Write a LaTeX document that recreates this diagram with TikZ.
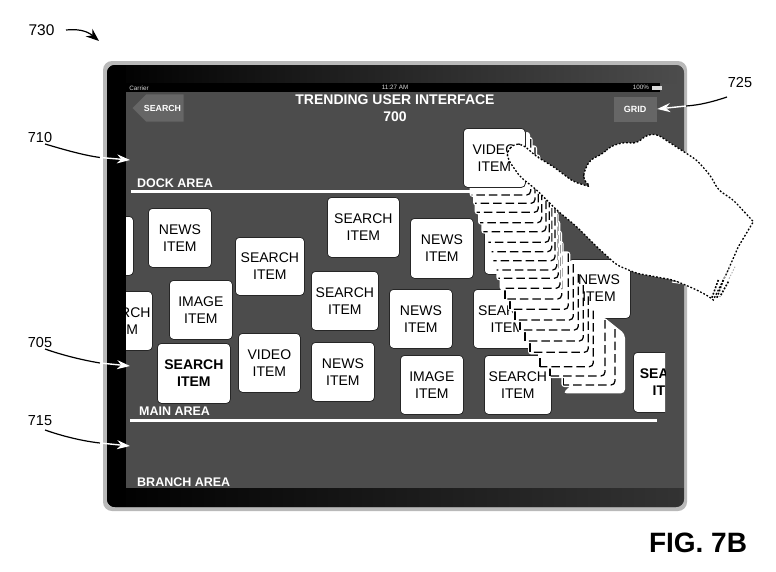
\documentclass[tikz,border=0pt]{standalone}
\usepackage{fontspec}
\setmainfont{Liberation Sans}
\usetikzlibrary{arrows.meta,shapes.geometric}
\definecolor{halftone}{gray}{0.30}
\definecolor{btn}{gray}{0.40}
\definecolor{bezelend}{gray}{0.20}
\tikzset{
  card/.style={fill=white,draw=black!85,line width=0.8pt,rounded corners=4pt,inner sep=0pt,align=center,font=\fontsize{14}{17}\selectfont,anchor=north west},
  areatext/.style={text=white,font=\bfseries\fontsize{12.5}{14}\selectfont,anchor=west,inner sep=0pt},
  reflabel/.style={font=\fontsize{14.5}{16}\selectfont,inner sep=1pt},
  leader/.style={line width=1.2pt},
  wleader/.style={line width=1.4pt,white,-{Stealth[length=13pt,width=9pt]}},
  trail/.style={dash pattern=on 8.5pt off 4pt,line width=1.25pt,black},
  status/.style={text=white!85!black,font=\fontsize{6.3}{7}\selectfont,inner sep=0pt}
}
\newcommand{\cardat}[7]{% name x0 y0 x1 y1 text style
  \node[card,#7,minimum width=#4pt-#2pt,minimum height=#5pt-#3pt] (#1) at (#2,#3) {#6};}
\newcommand{\trailcard}[3]{% bottom y, left x, right x (zoom coordinates)
  \fill[white,rounded corners=3pt] ({440+(#2)/3-2},{110+(#1)/3+2}) rectangle ({440+(#3)/3+2},{110+(#1)/3-58});
  \draw[trail,rounded corners=4pt] ({440+(#3)/3},{110+(#1)/3-56}) -- ({440+(#3)/3},{110+(#1)/3}) -- ({440+(#2)/3},{110+(#1)/3});}
\newcommand{\trailtick}[3]{%
  \fill[white,rounded corners=3pt] ({440+(#2)/3-2},{110+(#1)/3+2}) rectangle ({440+(#3)/3+2},{110+(#1)/3-58});
  \draw[trail,rounded corners=4pt] ({440+(#3)/3},{110+(#1)/3-56}) -- ({440+(#3)/3},{110+(#1)/3}) -- ({440+(#2)/3},{110+(#1)/3});
  \draw[line width=1.1pt] ({440+(#2)/3},{110+(#1)/3}) -- ({440+(#2)/3},{110+(#1)/3-9});}
\begin{document}
\begin{tikzpicture}[x=1pt,y=-1pt]
\useasboundingbox (0,0) rectangle (776,571);
% device
\fill[gray!55,rounded corners=9pt] (103,61) rectangle (687,511);
\fill[halftone,rounded corners=8pt] (107,65) rectangle (684,507);
\begin{scope}
\clip[rounded corners=8pt] (107,65) rectangle (684,507);
\shade[left color=black,right color=halftone,middle color=black!85] (107,65) rectangle (684,83);
\shade[left color=black,right color=bezelend] (107,488) rectangle (684,507);
\fill[black] (107,65) rectangle (126,507);
\end{scope}
\fill[black] (126,83) rectangle (660,92);
% status bar
\node[status] (carrier) at (139,88) {Carrier};
\node[status] (clock) at (395,87.5) {11:27 AM};
\node[status] (battery) at (641,87.5) {100\%};
\fill[white!85!black] (652,85.5) rectangle (662,89.5);
% buttons
\draw[black!70,fill=btn,line width=0.6pt] (184,94) -- (146,94) -- (132,108) -- (146,122) -- (184,122) -- cycle;
\node[text=white,font=\bfseries\fontsize{8.8}{10}\selectfont,inner sep=0pt] (searchbtn) at (162.5,108) {SEARCH};
\node[draw=black!70,fill=btn,minimum width=44pt,minimum height=26pt,inner sep=0pt,text=white,font=\bfseries\fontsize{9}{10}\selectfont] (gridbtn) at (635,109) {GRID};
% title
\node[text=white,align=center,font=\bfseries\fontsize{14}{17}\selectfont,inner sep=0pt] (title) at (395,108.5) {TRENDING USER INTERFACE\\700};
% area dividers and labels
\node[areatext] (dock) at (137,183) {DOCK AREA};
\node[areatext] (main) at (139,411.5) {MAIN AREA};
\node[areatext] (branch) at (137,482) {BRANCH AREA};
\coordinate (dockL) at (131,191.5);
\coordinate (dockR) at (660,191.5);
\coordinate (mainL) at (130,420.5);
\coordinate (mainR) at (657,420.5);
\draw[white,line width=2.4pt] (dockL) -- (dockR);
\draw[white,line width=2.4pt] (mainL) -- (mainR);
% cards, clipped to the screen
\begin{scope}
\clip (126,93) rectangle (665,488);
\cardat{c1}{110}{216}{133}{275}{}{}
\cardat{c2}{148}{208}{211}{267}{NEWS\\ITEM}{}
\cardat{c3}{235}{237}{304}{295}{SEARCH\\ITEM}{}
\cardat{c4}{327}{197}{399}{257}{SEARCH\\ITEM}{}
\cardat{c5}{410}{218}{473}{278}{NEWS\\ITEM}{}
\cardat{c6}{484}{215}{540}{274}{}{}
\cardat{c7}{169}{280}{232}{339}{IMAGE\\ITEM}{}
\cardat{c8}{311}{271}{378}{330}{SEARCH\\ITEM}{}
\cardat{c9}{389}{289}{452}{348}{NEWS\\ITEM}{}
\cardat{c10}{238}{333}{300}{392}{VIDEO\\ITEM}{}
\cardat{c11}{311}{342}{374}{401}{NEWS\\ITEM}{}
\cardat{c12}{157}{343}{230}{403}{\bfseries SEARCH\\\bfseries ITEM}{}
\cardat{c13}{400}{355}{463}{414}{IMAGE\\ITEM}{}
\cardat{c14}{484}{355}{551}{414}{SEARCH\\ITEM}{}
\cardat{c15}{473}{289}{541}{348}{SEARCH\\ITEM}{}
\cardat{c16}{568}{259}{630}{318}{}{}
\cardat{c17}{633}{352}{705}{412}{\bfseries SEARCH\\\bfseries ITEM}{}
\cardat{c18}{90}{291}{152}{350}{SEARCH\\ITEM}{}
\end{scope}
% the trail of the dragged card (back to front)
\fill[white,rounded corners=4pt] ({440+368/3},{110+850/3}) -- ({440+555/3},{110+850/3}) -- ({440+555/3},{110+672/3}) -- ({440+490/3},{110+620/3}) -- ({440+420/3},{110+800/3}) -- cycle;
\trailtick{825}{370}{525}
\trailtick{798}{330}{495}
\trailtick{770}{300}{460}
\trailtick{727}{270}{445}
\trailtick{693}{255}{430}
\trailtick{660}{240}{415}
\trailtick{630}{225}{400}
\trailtick{598}{210}{385}
\trailtick{567}{195}{365}
\trailcard{535}{185}{360}
\trailcard{505}{175}{355}
\trailcard{480}{170}{350}
\trailcard{452}{160}{345}
\trailcard{425}{155}{335}
\trailcard{397}{145}{328}
\trailcard{365}{130}{318}
\trailcard{338}{120}{305}
\trailcard{307}{110}{295}
\trailcard{280}{105}{285}
\trailcard{255}{95}{272}
% text of the news card shows through the trail
\node[align=center,inner sep=0pt,font=\fontsize{14}{17}\selectfont] (newstext) at (599,288) {NEWS\\ITEM};
% dragged card
\fill[white,rounded corners=3pt] (524,132) rectangle (530,180);
\cardat{c19}{463}{128}{525}{187}{VIDEO\\ITEM}{}
% white stroke behind the wrist
\coordinate (strokeL) at (672,282);
\coordinate (strokeR) at (686,284);
\draw[white,line width=1.2pt] (strokeL) -- (strokeR);
% hand
\draw[fill=white,draw=black,line width=1.3pt,dash pattern=on 1.8pt off 1.8pt,rounded corners=5pt]
 ({440+200/3},{110+125/3}) -- ({440+225/3},{110+100/3}) -- ({440+250/3},{110+105/3}) -- ({440+290/3},{110+140/3})
 -- ({440+340/3},{110+170/3}) -- ({440+400/3},{110+215/3}) -- ({440+455/3},{110+232/3}) -- ({440+430/3},{110+210/3})
 -- ({440+432/3},{110+185/3}) -- ({440+450/3},{110+150/3}) -- ({440+490/3},{110+130/3}) -- ({440+510/3},{110+110/3})
 -- ({440+550/3},{110+97/3}) -- ({440+590/3},{110+100/3}) -- ({440+620/3},{110+75/3}) -- ({440+650/3},{110+72/3})
 -- ({440+700/3},{110+105/3}) -- ({440+770/3},{110+150/3}) -- ({440+810/3},{110+195/3}) -- ({440+835/3},{110+240/3})
 -- ({440+880/3},{110+270/3}) [sharp corners] -- ({440+940/3},{110+335/3}) -- ({440+895/3},{110+410/3}) -- ({440+860/3},{110+490/3})
 -- ({440+820/3},{110+570/3}) [rounded corners=5pt] -- ({440+805/3},{110+558/3}) -- ({440+760/3},{110+535/3}) -- ({440+700/3},{110+510/3})
 -- ({440+590/3},{110+490/3}) -- ({440+530/3},{110+465/3}) -- ({440+470/3},{110+410/3}) -- ({440+410/3},{110+350/3})
 -- ({440+350/3},{110+300/3}) -- ({440+290/3},{110+240/3}) -- ({440+240/3},{110+200/3}) -- ({440+205/3},{110+150/3}) -- cycle;
% cuff of the sleeve
\foreach \a/\b/\c/\d in {835/510/815/565,850/510/830/565,865/515/840/560}{
  \draw[line width=1.6pt,dash pattern=on 1.8pt off 1.6pt] ({440+\a/3},{110+\b/3}) -- ({440+\c/3},{110+\d/3});}
\foreach \a/\b/\c/\d in {870/470/850/510,885/470/865/510}{
  \draw[gray!60,line width=1pt,dash pattern=on 1.4pt off 1.6pt] ({440+\a/3},{110+\b/3}) -- ({440+\c/3},{110+\d/3});}
% reference labels
\node[reflabel,font=\fontsize{15.5}{17}\selectfont] (n730) at (41.5,30) {730};
\node[reflabel] (n725) at (740,83) {725};
\node[reflabel] (n710) at (40,138) {710};
\node[reflabel] (n705) at (40,343) {705};
\node[reflabel] (n715) at (40,421) {715};
\node[font=\bfseries\fontsize{28}{32}\selectfont,inner sep=0pt] (fig) at (698,543) {FIG. 7B};
\coordinate (t730) at (99,41);
\draw[leader,-{Stealth[length=13pt,width=10pt]}] (66,30) .. controls (76,29) and (86,30) .. (t730);
\coordinate (e725) at (686,106);
\draw[leader] (727,97) .. controls (712,102) and (700,105) .. (e725);
\draw[wleader] (e725) -- (gridbtn.east);
\coordinate (e710) at (100,157.5);
\coordinate (t710) at (130,160);
\coordinate (e705) at (100,363);
\coordinate (t705) at (130,366);
\coordinate (e715) at (100,443);
\coordinate (t715) at (130,446);
\draw[leader] (45,144) .. controls (62,149) and (82,155) .. (e710);
\draw[wleader] (e710) -- (t710);
\draw[leader] (45,349) .. controls (62,355) and (82,360) .. (e705);
\draw[wleader] (e705) -- (t705);
\draw[leader] (45,430) .. controls (62,436) and (82,441) .. (e715);
\draw[wleader] (e715) -- (t715);
\end{tikzpicture}
\end{document}
